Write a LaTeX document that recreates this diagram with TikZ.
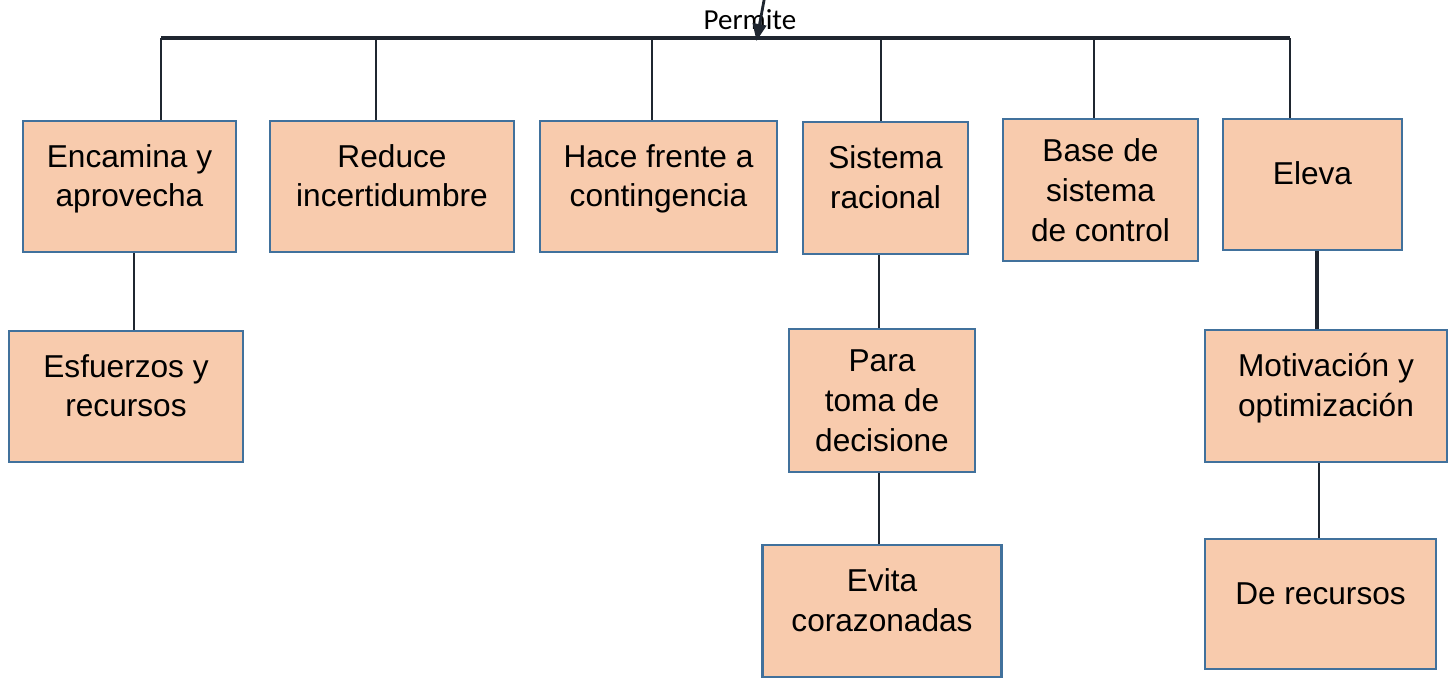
\documentclass[tikz,border=0pt]{standalone}
\usepackage{fontspec}
\setmainfont{Liberation Sans}
\newfontfamily\calibfont{Carlito}
\usetikzlibrary{positioning, arrows.meta}
\definecolor{boxfill}{HTML}{F8CBAD}
\definecolor{boxline}{HTML}{41719C}
\definecolor{linkline}{HTML}{1F2630}
\newcommand{\boxtxt}[1]{\raisebox{0pt}[\height][\dimexpr\depth+3mm\relax]{\begin{tabular}{@{}c@{}}#1\end{tabular}}}

\begin{document}
\begin{tikzpicture}[on grid,
    box/.style={draw=boxline, fill=boxfill, line width=1.4pt, align=center, inner sep=0pt,
                font=\fontsize{18}{22.7}\selectfont},
    link/.style={draw=linkline, line width=1.6pt}]
  \useasboundingbox (0,0) rectangle (29.06,-13.74);
  % top row
  \node[box, minimum width=4.26cm, minimum height=2.62cm] (encamina) at (2.59,-3.73) {\boxtxt{Encamina y\\aprovecha}};
  \node[box, minimum width=4.88cm, minimum height=2.62cm] (reduce)  [right=5.25cm of encamina] {\boxtxt{Reduce\\incertidumbre}};
  \node[box, minimum width=4.74cm, minimum height=2.62cm] (hace)    [right=5.33cm of reduce] {\boxtxt{Hace frente a\\contingencia}};
  \node[box, minimum width=3.30cm, minimum height=2.64cm] (sistema) [right=4.54cm of hace, yshift=-0.03cm] {\boxtxt{Sistema\\racional}};
  \node[box, minimum width=3.90cm, minimum height=2.84cm] (base)    [right=4.30cm of sistema, yshift=-0.04cm] {Base de\\sistema\\de control};
  \node[box, minimum width=3.58cm, minimum height=2.62cm] (eleva)   [right=4.24cm of base, yshift=0.11cm] {\boxtxt{Eleva}};
  % second row
  \node[box, minimum width=4.68cm, minimum height=2.62cm] (esfuerzos)  [below=4.20cm of encamina, xshift=-0.07cm] {\boxtxt{Esfuerzos y\\recursos}};
  \node[box, minimum width=3.72cm, minimum height=2.86cm] (para)       [below=4.25cm of sistema, xshift=-0.07cm] {Para\\toma de\\decisione};
  \node[box, minimum width=4.84cm, minimum height=2.64cm] (motivacion) [below=4.23cm of eleva, xshift=0.27cm] {\boxtxt{Motivación y\\optimización}};
  % third row
  \node[box, minimum width=4.78cm, minimum height=2.64cm] (evita)    [below=4.21cm of para] {\boxtxt{Evita\\corazonadas}};
  \node[box, minimum width=4.62cm, minimum height=2.60cm] (recursos) [below=4.16cm of motivacion, xshift=-0.11cm] {\boxtxt{De recursos}};

  % bar and arrow
  \coordinate (barL) at (3.22,-0.76);
  \coordinate (barR) at (25.80,-0.76);
  \coordinate (src)  at (15.30,0.10);
  \coordinate (hit)  at (15.13,-0.82);
  \node[font=\calibfont\fontsize{16.5}{20}\selectfont] (permite) at (15.0,-0.40) {Permite};
  \draw[link, line width=2pt] (barL) -- (barR);
  \draw[link, -{Triangle[length=0.34cm,width=0.27cm]}] (src) -- (hit);
  \foreach \n/\dx in {encamina/0.63, reduce/-0.32, hace/-0.13, sistema/-0.09, base/-0.13, eleva/-0.45}
    \draw[link] ([xshift=\dx cm]\n.north) -- ([xshift=\dx cm]\n.north |- barL);

  % lower links
  \draw[link] ([xshift=0.09cm]encamina.south) -- ([xshift=0.09cm]encamina.south |- esfuerzos.north);
  \draw[link] ([xshift=-0.13cm]sistema.south) -- ([xshift=-0.13cm]sistema.south |- para.north);
  \draw[link] ([xshift=-0.06cm]para.south) -- ([xshift=-0.06cm]para.south |- evita.north);
  \draw[link, line width=2.3pt] ([xshift=0.09cm]eleva.south) -- ([xshift=0.09cm]eleva.south |- motivacion.north);
  \draw[link] ([xshift=-0.14cm]motivacion.south) -- ([xshift=-0.14cm]motivacion.south |- recursos.north);
\end{tikzpicture}
\end{document}
